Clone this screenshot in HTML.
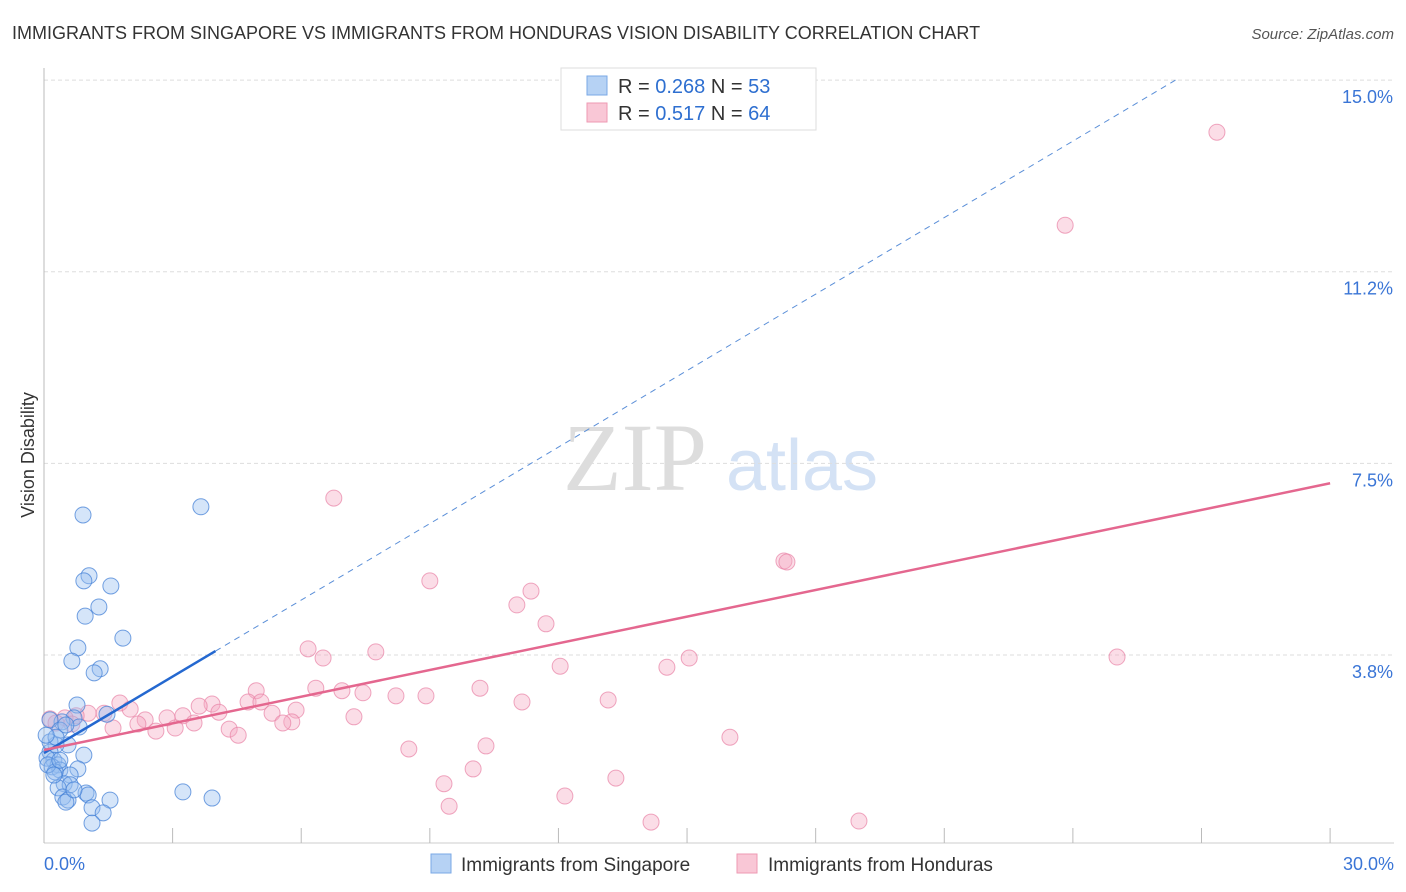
<!DOCTYPE html>
<html><head><meta charset="utf-8"><style>
body{margin:0;background:#fff;font-family:"Liberation Sans",sans-serif;}
svg{display:block}
</style></head><body>
<svg id="c" width="1406" height="892">
<text x="12" y="39" font-size="18" fill="#333">IMMIGRANTS FROM SINGAPORE VS IMMIGRANTS FROM HONDURAS VISION DISABILITY CORRELATION CHART</text>
<text x="1394" y="39" font-size="15" fill="#555" font-style="italic" text-anchor="end">Source: ZipAtlas.com</text>
<text x="0" y="0" transform="translate(34,455) rotate(-90)" font-size="18" fill="#333" text-anchor="middle">Vision Disability</text>
<text x="635" y="490" font-size="96" fill="#ddd" font-family="Liberation Serif,serif" text-anchor="middle">ZIP</text>
<text x="802" y="490" font-size="72" fill="#d4e2f5" text-anchor="middle">atlas</text>
<g id="grid"></g><g id="pts"></g><g id="lines"></g>
<g>
<rect x="561" y="68" width="255" height="62" fill="#fff" stroke="#ddd"/>
<rect x="587" y="76" width="20" height="19" fill="#b6d2f4" stroke="#7aa8e6"/>
<rect x="587" y="103" width="20" height="19" fill="#f9c7d6" stroke="#ee9ab3"/>
<text x="618" y="93" font-size="20" fill="#333">R = <tspan fill="#2e6fd0">0.268</tspan>   N = <tspan fill="#2e6fd0">53</tspan></text>
<text x="618" y="120" font-size="20" fill="#333">R =  <tspan fill="#2e6fd0">0.517</tspan>   N = <tspan fill="#2e6fd0">64</tspan></text>
</g>
<g>
<rect x="431" y="854" width="20" height="19" fill="#b6d2f4" stroke="#7aa8e6"/>
<text x="461" y="871" font-size="19" fill="#333">Immigrants from Singapore</text>
<rect x="737" y="854" width="20" height="19" fill="#f9c7d6" stroke="#ee9ab3"/>
<text x="768" y="871" font-size="19" fill="#333">Immigrants from Honduras</text>
</g>
</svg>
<script>
const yTicks=[3.75,7.5,11.25,15];
const yTickLabels=["3.8%","7.5%","11.2%","15.0%"];
const xTicks=[0,3,6,9,12,15,18,21,24,27,30];
const singaporeXpx=[83,201,89,84,111,99,85,78,123,72,100,94,77,107,74,62,50,60,79,68,56,84,50,54,47,58,52,60,78,70,55,48,64,70,58,86,88,63,68,66,110,92,103,92,183,212,50,56,66,46,60,74,54];
const singaporeYpx=[515,507,576,581,586,607,616,648,638,661,669,673,705,714,718,722,720,730,727,745,745,755,752,760,758,765,767,770,769,775,772,765,784,785,788,793,795,797,800,802,800,808,813,823,792,798,742,737,725,735,760,790,775];
const hondurasXpx=[1217,1065,334,784,787,430,531,517,546,308,376,323,1117,689,560,667,316,256,342,480,363,396,426,248,261,608,522,212,199,120,130,219,272,296,104,88,76,65,50,56,145,167,183,194,354,292,283,138,113,156,175,229,238,730,409,486,473,444,616,449,565,651,859,72];
const hondurasYpx=[132,225,498,561,562,581,591,605,624,649,652,658,657,658,666,667,688,691,691,688,693,696,696,702,702,700,702,704,706,703,709,712,713,710,713,713,716,718,719,723,720,718,716,723,717,722,723,724,728,731,728,729,735,737,749,746,769,784,778,806,796,822,821,724];
// data values (percent) derived from reading the picture
const singaporeX=singaporeXpx.map(p=>+((p-44)/42.87).toFixed(2));
const singaporeY=singaporeYpx.map(p=>+((846.6-p)/51.1).toFixed(2));
const hondurasX=hondurasXpx.map(p=>+((p-44)/42.87).toFixed(2));
const hondurasY=hondurasYpx.map(p=>+((846.6-p)/51.1).toFixed(2));
const singaporeTrend=[1.83,0.499]; // intercept, slope
const hondurasTrend=[1.89,0.174];
const sx=v=>44+v*42.87, sy=v=>846.6-v*51.1;
const NS="http://www.w3.org/2000/svg";
function mk(t,a,p){const e=document.createElementNS(NS,t);for(const k in a)e.setAttribute(k,a[k]);p.appendChild(e);return e;}
const g=document.getElementById('grid');
yTicks.forEach((v,i)=>{
 const l=mk('line',{x1:44,x2:1394,y1:sy(v),y2:sy(v),stroke:'#ddd','stroke-dasharray':'4,3'},g);
 
 
 const t=mk('text',{x:1393,y:sy(v)+23,'font-size':18,fill:'#3a75d6','text-anchor':'end'},g);t.textContent=yTickLabels[i];
 
 
});
const ax=mk('line',{x1:44,x2:44,y1:68,y2:843,stroke:'#bbb'},g);


const bx=mk('line',{x1:44,x2:1394,y1:843,y2:843,stroke:'#ccc'},g);


xTicks.forEach(v=>{const l=mk('line',{x1:sx(v),x2:sx(v),y1:828,y2:843,stroke:'#bbb'},g);
 
 });
[[0,'0.0%','start',44],[30,'30.0%','end',1394]].forEach(d=>{const t=mk('text',{x:d[3],y:870,'font-size':18,fill:'#3a75d6','text-anchor':d[2]},g);t.textContent=d[1];
 
 });
const P=document.getElementById('pts');
hondurasX.forEach((x,i)=>{const c=mk('circle',{cx:sx(x),cy:sy(hondurasY[i]),r:8,fill:'rgba(246,170,195,0.4)',stroke:'rgba(232,130,165,0.7)','stroke-width':1},P);
 
 });
singaporeX.forEach((x,i)=>{const c=mk('circle',{cx:sx(x),cy:sy(singaporeY[i]),r:8,fill:'rgba(150,190,240,0.4)',stroke:'rgba(70,130,215,0.75)','stroke-width':1},P);
 
 });
const L=document.getElementById('lines');
const f=(t,x)=>t[0]+t[1]*x;
let l1=mk('line',{x1:sx(4),y1:sy(f(singaporeTrend,4)),x2:sx(26.4),y2:sy(f(singaporeTrend,26.4)),stroke:'#5b8fd8','stroke-width':1,'stroke-dasharray':'6,5'},L);


let l2=mk('line',{x1:sx(0),y1:sy(f(singaporeTrend,0)),x2:sx(4),y2:sy(f(singaporeTrend,4)),stroke:'#2468d0','stroke-width':2.5},L);


let l3=mk('line',{x1:sx(0),y1:sy(f(hondurasTrend,0)),x2:sx(30),y2:sy(f(hondurasTrend,30)),stroke:'#e4678f','stroke-width':2.5},L);


</script>
</body></html>
